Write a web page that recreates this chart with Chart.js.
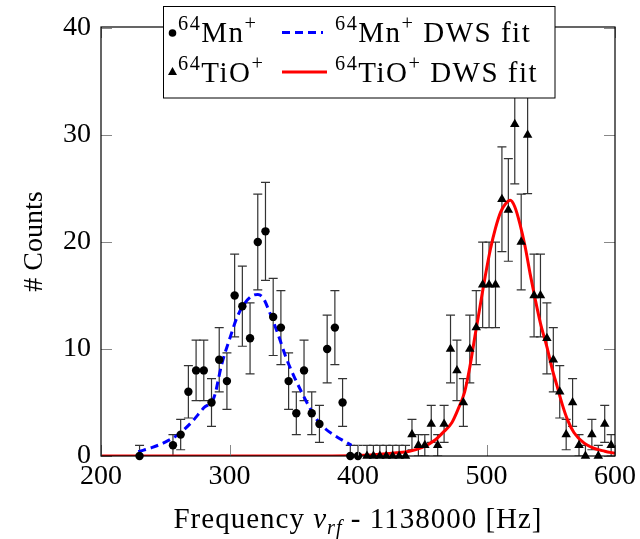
<!DOCTYPE html>
<html>
<head>
<meta charset="utf-8">
<script src="https://cdn.jsdelivr.net/npm/chart.js@4.4.0/dist/chart.umd.min.js"></script>
<style>
  body { margin: 0; background: #fff; }
  canvas { display: block; }
</style>
</head>
<body>
<canvas id="dwsChart" width="640" height="539"></canvas>
<script>
// 64Mn+ counts (circles)
const mnFreq = [230, 256, 262, 268, 274, 280, 286, 292, 298, 304, 310, 316, 322, 328, 334, 340, 346, 352, 358, 364, 370, 376, 382, 388, 394, 400];
const mnCounts = [0, 1, 2, 6, 8, 8, 5, 9, 7, 15, 14, 11, 20, 21, 13, 12, 7, 4, 8, 4, 3, 10, 12, 5, 0, 0];

// 64TiO+ counts (triangles)
const tioFreq = [407, 412, 417, 422, 427, 432, 437, 442, 447, 452, 457, 462, 467, 472, 477, 482, 487, 492, 497, 502, 507, 512, 517, 522, 527, 532, 537, 542, 547, 552, 557, 562, 567, 572, 577, 582, 587, 592, 597];
const tioCounts = [0, 0, 0, 0, 0, 0, 0, 2, 1, 1, 3, 1, 3, 10, 8, 5, 10, 12, 16, 16, 16, 24, 23, 31, 20, 30, 15, 15, 11, 9, 6, 2, 5, 1, 0, 2, 0, 3, 1];

// fit curves
const mnFitFreq = [229, 240, 250, 260, 270, 280, 288, 294, 300, 306, 312, 318, 322, 326, 331, 338, 344, 350, 356, 362, 368, 375, 382, 389, 395];
const mnFitCounts = [0.4, 0.8, 1.3, 2.0, 3.1, 4.5, 5.5, 8.6, 10.9, 13.0, 14.3, 15.0, 15.1, 14.8, 13.5, 11.3, 9.2, 7.5, 6.0, 4.6, 3.4, 2.5, 1.9, 1.4, 1.0];

const tioFitFreq = [200, 380, 410, 430, 440, 450, 460, 467, 473, 478, 483, 487, 491, 495, 499, 503, 507, 511, 515, 518.5, 522, 526, 530, 534, 538, 542, 547, 551, 555, 559, 563, 568, 576, 584, 592, 600];
const tioFitCounts = [0, 0, 0.1, 0.3, 0.45, 0.8, 1.5, 2.3, 3.1, 4.4, 6.0, 8.3, 11.2, 14.0, 16.8, 19.3, 21.3, 22.8, 23.6, 23.9, 23.3, 21.7, 19.6, 17.0, 14.6, 12.4, 10.2, 8.2, 6.5, 4.8, 3.4, 2.2, 1.2, 0.7, 0.45, 0.25];

const xTicks = [200, 300, 400, 500, 600];
const yTicks = [0, 10, 20, 30, 40];

const FONT = "'Liberation Serif', 'DejaVu Serif', serif";

function toPoints(xs, ys) {
  return xs.map((x, i) => ({ x: x, y: ys[i] }));
}

// poisson errors, at least one count
function errOf(n) {
  return Math.sqrt(Math.max(n, 1));
}

// draws text pieces with super/subscripts, returns width
function richText(ctx, parts, x, y, size, measureOnly) {
  let cx = x;
  parts.forEach(p => {
    const fs = p.sup || p.sub ? size * 0.7 : size;
    ctx.font = (p.italic ? 'italic ' : '') + fs + 'px ' + FONT;
    let dy = 0;
    if (p.sup) dy = -size * 0.42;
    if (p.sub) dy = size * 0.2;
    if (!measureOnly) ctx.fillText(p.t, cx, y + dy);
    cx += ctx.measureText(p.t).width;
  });
  return cx - x;
}

const framePlugin = {
  id: 'frame',
  beforeDatasetsDraw(chart) {
    const { ctx, chartArea: a, scales: { x, y } } = chart;
    ctx.save();
    ctx.beginPath();
    ctx.rect(a.left, a.top, a.right - a.left, a.bottom - a.top);
    ctx.clip();
    ctx.strokeStyle = '#333';
    ctx.lineWidth = 1.2;
    const bars = (xs, ys) => {
      xs.forEach((f, i) => {
        const e = errOf(ys[i]);
        const px = x.getPixelForValue(f);
        const top = y.getPixelForValue(ys[i] + e);
        const bot = y.getPixelForValue(ys[i] - e);
        ctx.beginPath();
        ctx.moveTo(px, top); ctx.lineTo(px, bot);
        ctx.moveTo(px - 4.5, top); ctx.lineTo(px + 4.5, top);
        ctx.moveTo(px - 4.5, bot); ctx.lineTo(px + 4.5, bot);
        ctx.stroke();
      });
    };
    bars(mnFreq, mnCounts);
    bars(tioFreq, tioCounts);
    ctx.restore();
  },
  afterDatasetsDraw(chart) {
    const { ctx, chartArea: a, scales: { x, y } } = chart;
    ctx.save();
    ctx.strokeStyle = '#888';
    ctx.lineWidth = 1;
    const tl = 11;
    ctx.beginPath();
    xTicks.forEach(v => {
      const px = Math.round(x.getPixelForValue(v)) + 0.5;
      ctx.moveTo(px, a.bottom); ctx.lineTo(px, a.bottom - tl);
      ctx.moveTo(px, a.top); ctx.lineTo(px, a.top + tl);
    });
    yTicks.forEach(v => {
      const py = Math.round(y.getPixelForValue(v)) + 0.5;
      ctx.moveTo(a.left, py); ctx.lineTo(a.left + tl, py);
      ctx.moveTo(a.right, py); ctx.lineTo(a.right - tl, py);
    });
    ctx.stroke();
    ctx.strokeStyle = '#000';
    ctx.lineWidth = 1.2;
    ctx.strokeRect(a.left, a.top, a.right - a.left, a.bottom - a.top);
    ctx.restore();
  },
  afterDraw(chart) {
    const { ctx, chartArea: a } = chart;
    ctx.save();
    ctx.fillStyle = '#000';
    ctx.textBaseline = 'alphabetic';
    ctx.textAlign = 'left';

    // x axis title
    ctx.letterSpacing = '1px';
    const xParts = [
      { t: 'Frequency ' }, { t: 'ν', italic: true }, { t: 'rf', italic: true, sub: true }, { t: ' - 1138000 [Hz]' }
    ];
    const w = richText(ctx, xParts, 0, 0, 29, true);
    richText(ctx, xParts, (a.left + a.right) / 2 - w / 2, 528, 29);
    ctx.letterSpacing = '0px';

    // y axis title
    ctx.save();
    ctx.translate(42, (a.top + a.bottom) / 2);
    ctx.rotate(-Math.PI / 2);
    ctx.font = '28px ' + FONT;
    ctx.textAlign = 'center';
    ctx.fillText('# Counts', 0, 0);
    ctx.restore();

    // legend
    const lx = 163.5, ly = 6.5, lw = 391.5, lh = 91.5;
    ctx.fillStyle = '#fff';
    ctx.fillRect(lx, ly, lw, lh);
    ctx.strokeStyle = '#000';
    ctx.lineWidth = 1;
    ctx.strokeRect(lx, ly, lw, lh);
    ctx.fillStyle = '#000';

    ctx.beginPath();
    ctx.arc(172.5, 33, 3.8, 0, Math.PI * 2);
    ctx.fill();
    ctx.beginPath();
    ctx.moveTo(172.5, 67); ctx.lineTo(177, 75); ctx.lineTo(168, 75);
    ctx.closePath();
    ctx.fill();

    ctx.letterSpacing = '1.5px';
    richText(ctx, [{ t: '64', sup: true }, { t: 'Mn' }, { t: '+', sup: true }], 178, 42, 29);
    richText(ctx, [{ t: '64', sup: true }, { t: 'TiO' }, { t: '+', sup: true }], 178, 82, 29);

    ctx.lineWidth = 3;
    ctx.strokeStyle = 'blue';
    ctx.setLineDash([8, 5]);
    ctx.beginPath();
    ctx.moveTo(282, 32.5); ctx.lineTo(323, 32.5);
    ctx.stroke();
    ctx.setLineDash([]);
    ctx.strokeStyle = 'red';
    ctx.beginPath();
    ctx.moveTo(282, 72); ctx.lineTo(327, 72);
    ctx.stroke();

    richText(ctx, [{ t: '64', sup: true }, { t: 'Mn' }, { t: '+', sup: true }, { t: ' DWS fit' }], 335, 42, 29);
    richText(ctx, [{ t: '64', sup: true }, { t: 'TiO' }, { t: '+', sup: true }, { t: ' DWS fit' }], 335, 82, 29);
    ctx.letterSpacing = '0px';
    ctx.restore();
  }
};

const ctx = document.getElementById('dwsChart').getContext('2d');

new Chart(ctx, {
  type: 'scatter',
  data: {
    datasets: [
      {
        label: '64Mn+',
        data: toPoints(mnFreq, mnCounts),
        pointStyle: 'circle',
        pointRadius: 4.2,
        backgroundColor: '#000',
        borderWidth: 0,
        clip: false,
        order: 1
      },
      {
        label: '64Mn+ DWS fit',
        data: toPoints(mnFitFreq, mnFitCounts),
        showLine: true,
        pointRadius: 0,
        borderColor: 'blue',
        borderWidth: 3,
        borderDash: [8, 5],
        cubicInterpolationMode: 'monotone',
        order: 2
      },
      {
        label: '64TiO+',
        data: toPoints(tioFreq, tioCounts),
        pointStyle: 'triangle',
        pointRadius: 5.5,
        backgroundColor: '#000',
        borderWidth: 0,
        clip: false,
        order: 1
      },
      {
        label: '64TiO+ DWS fit',
        data: toPoints(tioFitFreq, tioFitCounts),
        showLine: true,
        pointRadius: 0,
        borderColor: 'red',
        borderWidth: 3,
        cubicInterpolationMode: 'monotone',
        order: 2
      }
    ]
  },
  options: {
    responsive: false,
    animation: false,
    devicePixelRatio: 1,
    layout: { padding: { top: 27, right: 21, left: 0, bottom: 0 } },
    plugins: {
      legend: { display: false },
      tooltip: { enabled: false }
    },
    scales: {
      x: {
        type: 'linear',
        min: 200,
        max: 600,
        afterBuildTicks: s => { s.ticks = xTicks.map(v => ({ value: v })); },
        afterFit: s => { s.height = 83; },
        ticks: { font: { family: FONT, size: 28 }, color: '#000', padding: 4, maxRotation: 0 },
        grid: { display: false, drawTicks: false },
        border: { display: false }
      },
      y: {
        type: 'linear',
        min: 0,
        max: 40.1,
        afterBuildTicks: s => { s.ticks = yTicks.map(v => ({ value: v })); },
        afterFit: s => { s.width = 101; },
        ticks: { font: { family: FONT, size: 28 }, color: '#000', padding: 10 },
        grid: { display: false, drawTicks: false },
        border: { display: false }
      }
    }
  },
  plugins: [framePlugin]
});
</script>
</body>
</html>
